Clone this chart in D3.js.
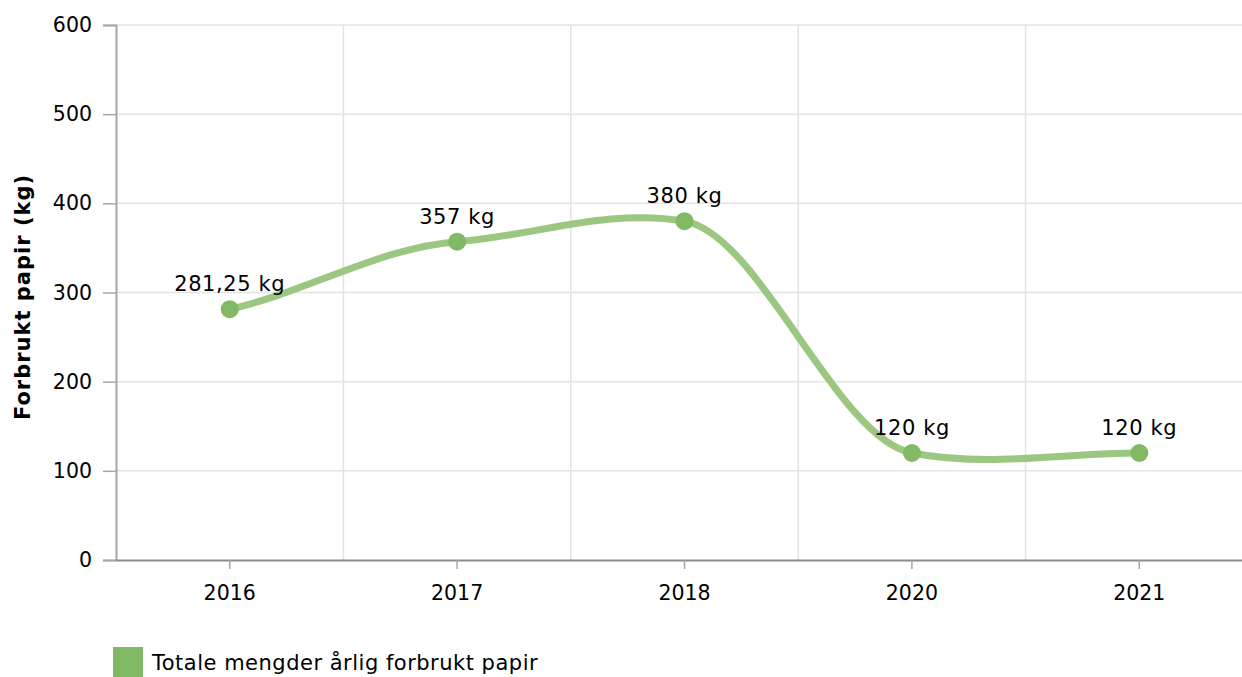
<!DOCTYPE html>
<html>
<head>
<meta charset="utf-8">
<script src="https://cdn.jsdelivr.net/npm/d3@7"></script>
<style>
  body { margin: 0; background: #fff; }
  svg { display: block; font-family: "DejaVu Sans", Verdana, sans-serif; }
</style>
</head>
<body>
<svg id="canvas" width="1242" height="677"></svg>
<script>
// data
const years = ["2016", "2017", "2018", "2020", "2021"];
const values = [281.25, 357, 380, 120, 120];
const labels = ["281,25 kg", "357 kg", "380 kg", "120 kg", "120 kg"];
const yTicks = [0, 100, 200, 300, 400, 500, 600];
const seriesName = "Totale mengder årlig forbrukt papir";

let svg = d3.select("#canvas");

let x = d3.scaleBand().domain(years).range([116, 1253]);
let y = d3.scaleLinear().domain([0, 600]).range([560, 25]);

// soft spline: hermite with damped tangents (flatter at the points)
function curveSoft(context) {
  let xs = [], ys = [];
  return {
    areaStart() {}, areaEnd() {},
    lineStart() { xs = []; ys = []; },
    point(px, py) { xs.push(+px); ys.push(+py); },
    lineEnd() {
      let n = xs.length;
      let m = xs.map((_, i) => {
        if (i == 0) return 0.75 * (ys[1] - ys[0]) / (xs[1] - xs[0]);
        if (i == n - 1) return 0.75 * (ys[i] - ys[i - 1]) / (xs[i] - xs[i - 1]);
        return 0.38 * (ys[i + 1] - ys[i - 1]) / (xs[i + 1] - xs[i - 1]);
      });
      context.moveTo(xs[0], ys[0]);
      for (let i = 0; i < n - 1; i++) {
        let dx = (xs[i + 1] - xs[i]) / 3;
        context.bezierCurveTo(xs[i] + dx, ys[i] + m[i] * dx,
          xs[i + 1] - dx, ys[i + 1] - m[i + 1] * dx, xs[i + 1], ys[i + 1]);
      }
    }
  };
}

// horizontal grid
svg.append("g").selectAll("line")
  .data(yTicks.slice(1))
  .enter().append("line")
  .attr("x1", 116).attr("x2", 1242)
  .attr("y1", d => y(d)).attr("y2", d => y(d))
  .attr("stroke", "#e3e3e3").attr("stroke-width", 1.5);

// vertical grid at band edges
svg.append("g").selectAll("line")
  .data(years.slice(1))
  .enter().append("line")
  .attr("x1", d => x(d)).attr("x2", d => x(d))
  .attr("y1", y(600)).attr("y2", y(0))
  .attr("stroke", "#e3e3e3").attr("stroke-width", 1.5);

// y axis
let yAxis = svg.append("g")
  .attr("transform", "translate(116,0)")
  .call(d3.axisLeft(y).tickValues(yTicks).tickSize(13).tickPadding(11));
yAxis.select(".domain").attr("stroke", "#a6a6a6").attr("stroke-width", 2);
yAxis.selectAll(".tick line").attr("stroke", "#a6a6a6").attr("stroke-width", 1.5);
yAxis.selectAll("text").attr("font-size", 20.5).attr("fill", "#000")
  .attr("font-family", "DejaVu Sans, Verdana, sans-serif");

// x axis
let xAxis = svg.append("g")
  .attr("transform", "translate(0,560)")
  .call(d3.axisBottom(x).tickSizeInner(9).tickSizeOuter(0).tickPadding(16));
xAxis.select(".domain").attr("stroke", "#8c8c8c").attr("stroke-width", 2);
xAxis.selectAll(".tick line").attr("stroke", "#a6a6a6").attr("stroke-width", 1.5);
xAxis.selectAll("text").attr("font-size", 20.5).attr("fill", "#000")
  .attr("font-family", "DejaVu Sans, Verdana, sans-serif");

// axis title
svg.append("text")
  .attr("transform", "translate(30,297) rotate(-90)")
  .attr("text-anchor", "middle")
  .attr("font-size", 21).attr("font-weight", "bold")
  .attr("letter-spacing", 1)
  .text("Forbrukt papir (kg)");

// line
let pts = years.map((yr, i) => ({ yr: yr, v: values[i], label: labels[i] }));
let line = d3.line()
  .x(d => x(d.yr) + x.bandwidth() / 2)
  .y(d => y(d.v))
  .curve(curveSoft);

svg.append("path")
  .datum(pts)
  .attr("d", line)
  .attr("fill", "none")
  .attr("stroke", "#9bc781")
  .attr("stroke-width", 7)
  .attr("stroke-linecap", "round");

svg.append("g").selectAll("circle")
  .data(pts)
  .enter().append("circle")
  .attr("cx", d => x(d.yr) + x.bandwidth() / 2)
  .attr("cy", d => y(d.v))
  .attr("r", 9)
  .attr("fill", "#82b964");

svg.append("g").selectAll("text")
  .data(pts)
  .enter().append("text")
  .attr("x", d => x(d.yr) + x.bandwidth() / 2)
  .attr("y", d => y(d.v) - 18)
  .attr("text-anchor", "middle")
  .attr("font-size", 21)
  .attr("letter-spacing", 0.6)
  .text(d => d.label);

// legend
svg.append("rect")
  .attr("x", 113).attr("y", 647).attr("width", 30).attr("height", 30)
  .attr("fill", "#82b964");
svg.append("text")
  .attr("x", 152).attr("y", 670)
  .attr("font-size", 21)
  .attr("letter-spacing", 0.5)
  .text(seriesName);
</script>
</body>
</html>
